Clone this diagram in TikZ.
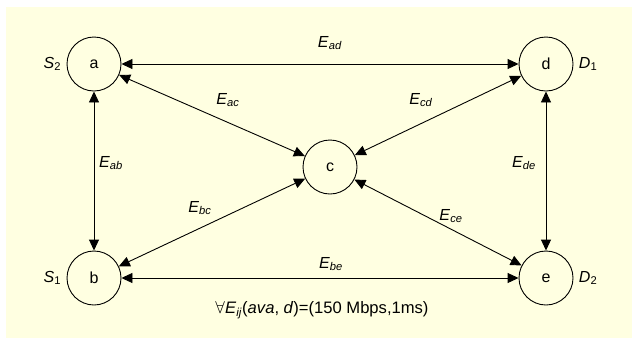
\documentclass[tikz,border=0pt]{standalone}
\usepackage{fontspec}
\setmainfont{Liberation Sans}
\usepackage{tikz}
\usetikzlibrary{arrows.meta, positioning}
\definecolor{paleyellow}{RGB}{255, 255, 225}
\newcommand{\elab}[1]{\textit{E}\textsubscript{\textit{#1}}}

\begin{document}
\begin{tikzpicture}[x=1pt, y=-1pt,
  vertex/.style={circle, draw, line width=0.9pt, minimum size=54pt, inner sep=0pt, font=\fontsize{16}{18}\selectfont},
  link/.style={{Triangle[length=11pt,width=10pt]}-{Triangle[length=11pt,width=10pt]}, line width=0.9pt},
  elabel/.style={font=\fontsize{16}{18}\selectfont}]
  \useasboundingbox (0,0) rectangle (632,338);
  \fill[paleyellow] (6,7) rectangle (632,338);

  \node[vertex] (a) at (94,64) {a};
  \node[vertex] (b) at (94,278) {b};
  \node[vertex] (c) at (330,167) {c};
  \node[vertex] (d) at (546,64) {d};
  \node[vertex] (e) at (546,278) {e};

  \node[elabel, left=2pt of a] (sa) {\textit{S}\textsubscript{2}};
  \node[elabel, left=2pt of b] (sb) {\textit{S}\textsubscript{1}};
  \node[elabel, right=2pt of d] (dd) {\textit{D}\textsubscript{1}};
  \node[elabel, right=2pt of e] (de) {\textit{D}\textsubscript{2}};

  \foreach \u/\v in {a/d, a/b, a/c, d/c, d/e, b/c, c/e, b/e} {
    \draw[link] (\u) -- (\v);
  }

  \node[elabel] (lad) at (330,43) {\elab{ad}};
  \node[elabel] (lac) at (228,100) {\elab{ac}};
  \node[elabel] (lcd) at (421,100) {\elab{cd}};
  \node[elabel] (lab) at (111,163) {\elab{ab}};
  \node[elabel] (lde) at (524,163) {\elab{de}};
  \node[elabel] (lbc) at (200,208) {\elab{bc}};
  \node[elabel] (lce) at (451,216) {\elab{ce}};
  \node[elabel] (lbe) at (331,264) {\elab{be}};
  \node[font=\fontsize{16.6}{18}\selectfont] (note) at (322,310) {$\forall$\elab{ij}(\textit{ava}, \textit{d})=(150 Mbps,1ms)};
\end{tikzpicture}
\end{document}
